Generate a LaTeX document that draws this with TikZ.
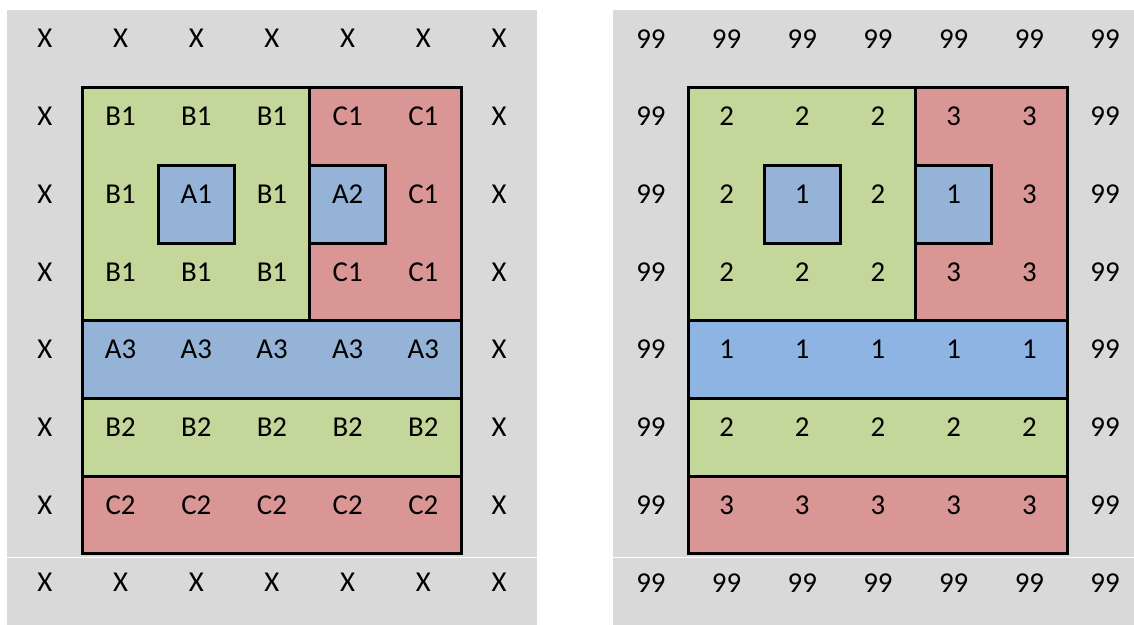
\documentclass[tikz,border=0pt]{standalone}
\usepackage{fontspec}
\setmainfont{Carlito}
\definecolor{cellgray}{HTML}{D9D9D9}
\definecolor{setgreen}{HTML}{C4D79B}
\definecolor{setred}{HTML}{DA9694}
\definecolor{setblue}{HTML}{95B3D7}
\definecolor{rowblue}{HTML}{8DB4E2}
% #1 x shift, #2 name prefix, #3 colour of the long blue row, #4 label rows
\newcommand{\drawpanel}[4]{%
  \begin{scope}[shift={(#1,0.1287)}]
    \fill[cellgray] (0,0) rectangle (7,8);
    \draw[white, line width=0.9pt] (0,7.045) -- (7,7.045);
    \fill[setgreen] (1,1) rectangle (4,4);
    \fill[setred] (4,1) rectangle (6,4);
    \fill[#3] (1,4) rectangle (6,5);
    \fill[setgreen] (1,5) rectangle (6,6);
    \fill[setred] (1,6) rectangle (6,7);
    \draw[border] (4,1) -- (4,4);
    \draw[border] (1,4) -- (6,4);
    \draw[border] (1,5) -- (6,5);
    \draw[border] (1,6) -- (6,6);
    \draw[border, fill=setblue] (2,2) rectangle (3,3);
    \draw[border, fill=setblue] (4,2) rectangle (5,3);
    \draw[border] (1,1) rectangle (6,7);
    % cell labels
    \foreach \row [count=\j from 0] in {#4}{
      \foreach \lab [count=\i from 0] in \row{
        \node[celltext] (#2-\i-\j) at (\i+0.5,\j+0.37) {\lab};
      }
    }
  \end{scope}
}

\begin{document}
\begin{tikzpicture}[x=1.8925cm, y=-1.9425cm]
\tikzset{celltext/.style={font=\fontsize{20.5}{23}\selectfont, inner sep=0pt},
  border/.style={line width=2.2pt, line join=miter}}

\useasboundingbox (0,0) rectangle (14.98,8.031);
\clip (0,0) rectangle (14.98,8.031);

% left panel: cell names
\drawpanel{0.0925}{L}{setblue}{
  {X,X,X,X,X,X,X},
  {X,B1,B1,B1,C1,C1,X},
  {X,B1,A1,B1,A2,C1,X},
  {X,B1,B1,B1,C1,C1,X},
  {X,A3,A3,A3,A3,A3,X},
  {X,B2,B2,B2,B2,B2,X},
  {X,C2,C2,C2,C2,C2,X},
  {X,X,X,X,X,X,X}}

% right panel: set numbers
\drawpanel{8.0978}{R}{rowblue}{
  {99,99,99,99,99,99,99},
  {99,2,2,2,3,3,99},
  {99,2,1,2,1,3,99},
  {99,2,2,2,3,3,99},
  {99,1,1,1,1,1,99},
  {99,2,2,2,2,2,99},
  {99,3,3,3,3,3,99},
  {99,99,99,99,99,99,99}}
\end{tikzpicture}
\end{document}
